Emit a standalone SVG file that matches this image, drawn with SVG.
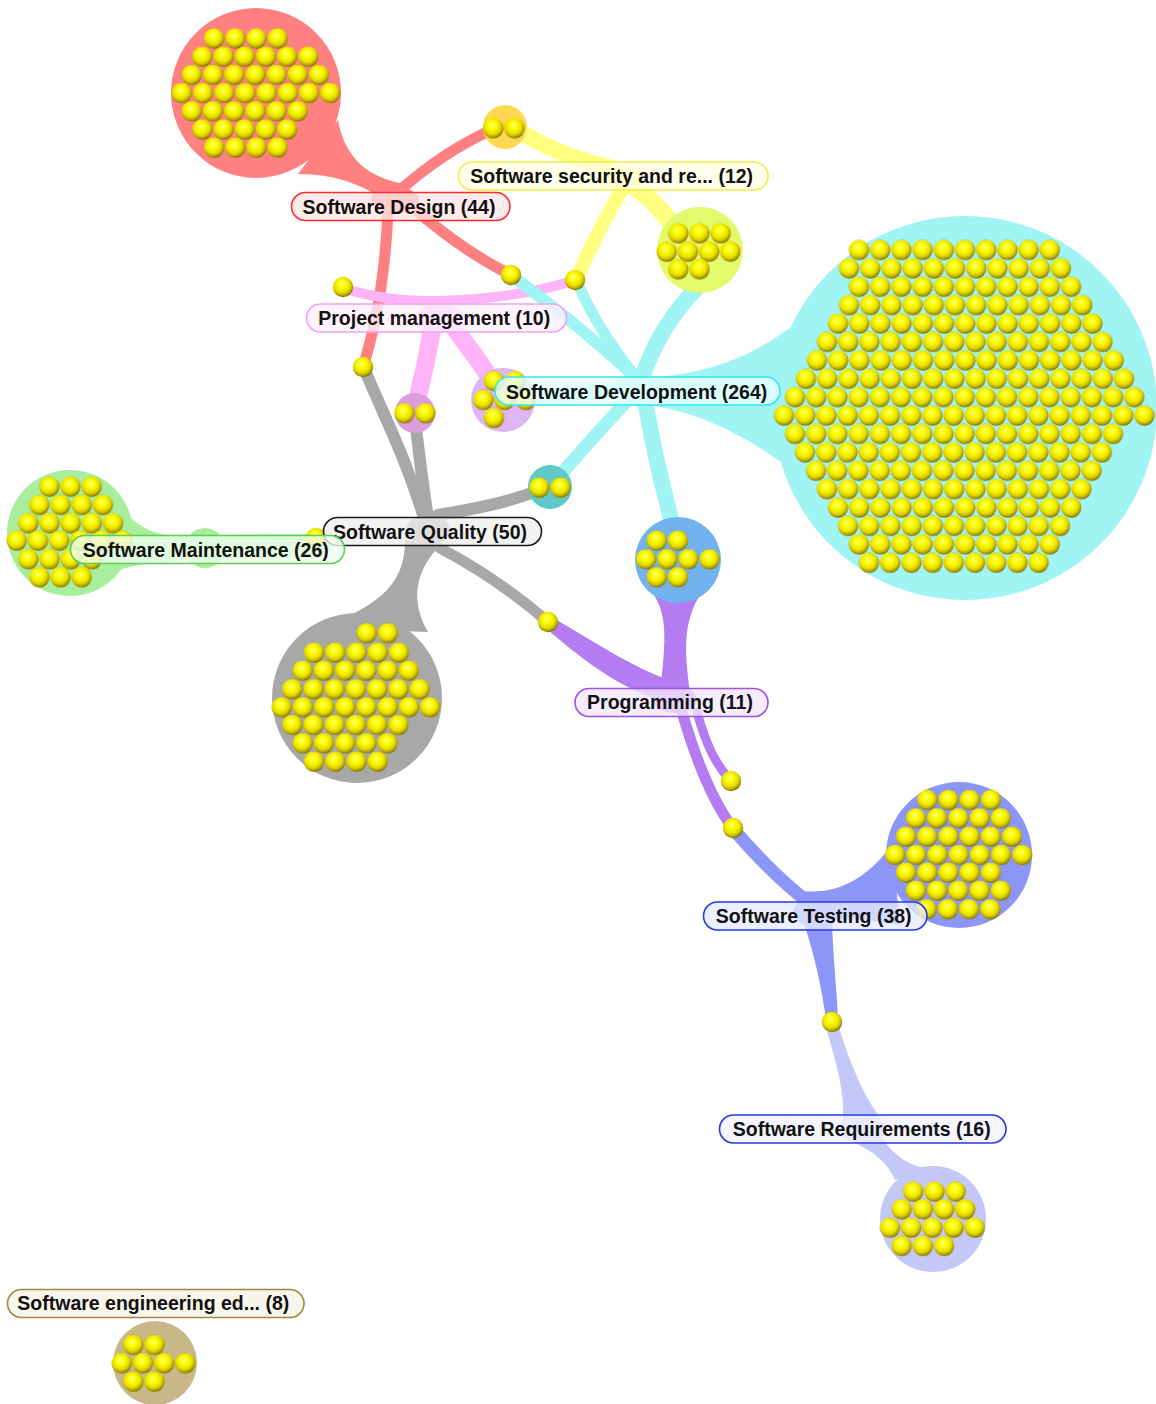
<svg xmlns="http://www.w3.org/2000/svg" xmlns:xlink="http://www.w3.org/1999/xlink" width="1156" height="1404" viewBox="0 0 1156 1404">
<style>
.c{fill:none;stroke-linecap:round}
.lb{stroke-width:1.6;fill-opacity:0.78}
.t{font-family:"Liberation Sans",Arial,Helvetica,sans-serif;font-weight:bold;font-size:19.5px;text-anchor:middle;fill:#111}
.rows{fill:url(#bp)}
</style>
<defs>
<radialGradient id="bg" cx="0.45" cy="0.4" r="0.62" fx="0.44" fy="0.34">
<stop offset="0" stop-color="#ffffd8"/>
<stop offset="0.1" stop-color="#ffff50"/>
<stop offset="0.3" stop-color="#ffff00"/>
<stop offset="0.65" stop-color="#e6dc00"/>
<stop offset="0.88" stop-color="#a89800"/>
<stop offset="1" stop-color="#665800"/>
</radialGradient>
<pattern id="bp" width="21.2" height="21" patternUnits="userSpaceOnUse"><circle cx="10.6" cy="10.5" r="10.2" fill="url(#bg)"/></pattern>
<circle id="ball" r="10.2" fill="url(#bg)"/>
</defs>
<rect width="1156" height="1404" fill="#ffffff"/>

<g id="connectors">
<!-- red: Software Design -->
<g stroke="#ff8080">
<path class="c" d="M398,192 Q445,150 496,128" stroke-width="11"/>
<path class="c" d="M418,212 Q465,252 511,275" stroke-width="11"/>
<path class="c" d="M388,212 Q384,300 363,367" stroke-width="11"/>
</g>
<path fill="#ff8080" d="M338,120 C345,160 370,178 405,184 L395,207 C370,190 345,174 298,174 Z"/>
<ellipse cx="395" cy="200" rx="24" ry="13" fill="#ff8080"/>
<!-- yellow: security -->
<g stroke="#ffff80">
<path class="c" d="M515,128 Q555,155 612,168" stroke-width="16"/>
<path class="c" d="M625,185 Q600,225 577,278" stroke-width="14"/>
<path class="c" d="M632,185 Q655,200 672,225" stroke-width="18"/>
</g>
<ellipse cx="620" cy="178" rx="22" ry="12" fill="#ffff80"/>
<!-- pink: project management -->
<g stroke="#ffb4f8">
<path class="c" d="M343,288 C385,302 430,302 460,300 C510,297 545,290 575,280" stroke-width="10"/>
<path class="c" d="M433,325 Q426,365 416,405" stroke-width="18"/>
<path class="c" d="M452,325 Q475,355 495,385" stroke-width="18"/>
</g>
<ellipse cx="440" cy="318" rx="24" ry="13" fill="#ffb4f8"/>
<!-- cyan: software development -->
<g stroke="#a0f4f4">
<path class="c" d="M511,275 Q575,322 630,372" stroke-width="12"/>
<path class="c" d="M576,280 Q598,330 632,372" stroke-width="11"/>
<path class="c" d="M697,288 Q660,325 642,378" stroke-width="16"/>
<path class="c" d="M628,400 Q590,440 552,485" stroke-width="13"/>
<path class="c" d="M645,400 Q655,460 674,530" stroke-width="16"/>
<path class="c" d="M515,398 L630,390" stroke-width="14"/>
</g>
<path fill="#a0f4f4" d="M640,378 C700,376 750,360 800,320 L805,480 C755,440 700,410 640,404 Z"/>
<ellipse cx="637" cy="390" rx="26" ry="16" fill="#a0f4f4"/>
<!-- gray: software quality -->
<g stroke="#a8a8a8">
<path class="c" d="M364,368 C382,412 405,455 424,518" stroke-width="12"/>
<path class="c" d="M416,428 C420,462 424,492 428,518" stroke-width="12"/>
<path class="c" d="M438,515 C480,508 510,502 545,488" stroke-width="12"/>
<path class="c" d="M440,548 Q500,580 548,622" stroke-width="11"/>
</g>
<path fill="#a8a8a8" d="M405,540 C405,580 385,605 318,628 L428,632 C410,600 415,572 440,545 Z"/>
<ellipse cx="428" cy="530" rx="22" ry="15" fill="#a8a8a8"/>
<!-- green: maintenance -->
<path class="c" stroke="#a8ee9c" d="M110,548 L318,546" stroke-width="24"/>
<path fill="#a8ee9c" d="M108,494 C130,522 150,535 175,536 L175,561 C150,561 130,566 108,574 Z"/>
<circle cx="205" cy="548" r="20" fill="#a8ee9c"/>
<!-- purple: programming -->
<path fill="#b47cf0" d="M548,615 C592,640 632,668 675,682 L668,702 C625,692 585,662 548,630 Z"/>
<path fill="#b47cf0" d="M652,592 C668,615 666,640 660,692 L690,692 C684,650 683,620 702,592 Z"/>
<g stroke="#b47cf0">
<path class="c" d="M682,712 C696,760 712,800 732,827" stroke-width="11"/>
<path class="c" d="M697,712 C706,745 716,765 731,781" stroke-width="9"/>
</g>
<ellipse cx="675" cy="700" rx="22" ry="13" fill="#b47cf0"/>
<!-- blue: testing -->
<path class="c" stroke="#8c96f8" d="M734,830 C760,860 785,885 812,905" stroke-width="13"/>
<path fill="#8c96f8" d="M795,890 C830,896 862,885 892,845 L900,925 C860,918 830,918 800,918 Z"/>
<path fill="#8c96f8" d="M803,920 C816,960 822,990 826,1020 L838,1020 C837,990 833,960 832,920 Z"/>
<ellipse cx="815" cy="912" rx="22" ry="14" fill="#8c96f8"/>
<!-- light blue: requirements -->
<path fill="#c4c8f8" d="M826,1028 C836,1062 845,1092 843,1120 L882,1120 C866,1100 850,1065 838,1024 Z"/>
<path fill="#c4c8f8" d="M845,1138 C870,1150 885,1158 895,1180 L925,1168 C905,1165 890,1150 882,1138 Z"/>
<ellipse cx="862" cy="1129" rx="24" ry="13" fill="#c4c8f8"/>
</g>

<g id="shared-clusters">
<g id="c-design-security"><circle cx="505" cy="127" r="22" fill="#ffd850"/>
<g class="rows"><rect transform="translate(482.7 117.8)" width="42.4" height="21"/></g></g>
<g id="c-security-development"><circle cx="700" cy="250" r="43" fill="#e2fa6c"/>
<g class="rows">
<rect transform="translate(667.7 222.8)" width="63.6" height="21"/>
<rect transform="translate(656.1 241.2)" width="84.8" height="21"/>
<rect transform="translate(667.7 258.8)" width="42.4" height="21"/>
</g></g>
<g id="c-pm-quality"><circle cx="415" cy="413" r="20" fill="#da9ede"/>
<g class="rows"><rect transform="translate(393.7 402.8)" width="42.4" height="21"/></g></g>
<g id="c-pm-development"><circle cx="503" cy="400" r="32" fill="#deb6f6"/>
<g class="rows">
<rect transform="translate(483.4 370.5)" width="42.4" height="21"/>
<rect transform="translate(472.7 389.5)" width="63.6" height="21"/>
<rect transform="translate(483.4 407.5)" width="21.2" height="21"/>
</g></g>
<g id="c-quality-development"><circle cx="550" cy="487" r="22" fill="#60c8c8"/>
<g class="rows"><rect transform="translate(528.7 477.2)" width="42.4" height="21"/></g></g>
<g id="c-programming-development"><circle cx="678" cy="560" r="43" fill="#72b2ee"/>
<g class="rows">
<rect transform="translate(646.1 530.2)" width="42.4" height="21"/>
<rect transform="translate(635.4 548.8)" width="84.8" height="21"/>
<rect transform="translate(646.1 566.8)" width="42.4" height="21"/>
</g></g>
<g id="single-documents">
<use xlink:href="#ball" href="#ball" x="343" y="287"/>
<use xlink:href="#ball" href="#ball" x="511" y="275"/>
<use xlink:href="#ball" href="#ball" x="575" y="280"/>
<use xlink:href="#ball" href="#ball" x="363" y="367"/>
<use xlink:href="#ball" href="#ball" x="548" y="622"/>
<use xlink:href="#ball" href="#ball" x="731" y="781"/>
<use xlink:href="#ball" href="#ball" x="733" y="828"/>
<use xlink:href="#ball" href="#ball" x="832" y="1022"/>
<use xlink:href="#ball" href="#ball" x="316" y="538"/>
</g>
</g>

<g id="n-design">
<circle cx="256" cy="93" r="85" fill="#ff8080"/>
<g class="rows">
<rect transform="translate(203.4 28)" width="84.8" height="21"/>
<rect transform="translate(191.7 46.2)" width="127.2" height="21"/>
<rect transform="translate(181.1 64.4)" width="148.4" height="21"/>
<rect transform="translate(171.1 82.6)" width="169.6" height="21"/>
<rect transform="translate(181.1 100.8)" width="127.2" height="21"/>
<rect transform="translate(191.7 119)" width="106" height="21"/>
<rect transform="translate(203.4 137.2)" width="84.8" height="21"/>
</g>
<rect class="lb" x="291.5" y="192.5" width="218.5" height="28" rx="14" fill="#ffe6e6" stroke="#ff2a2a"/>
<text class="t" x="399" y="213.5">Software Design (44)</text>
</g>

<g id="n-security">
<rect class="lb" x="458.5" y="162" width="309.5" height="28" rx="14" fill="#ffffe6" stroke="#f2ee48"/>
<text class="t" x="611.7" y="183">Software security and re... (12)</text>
</g>

<g id="n-project-management">
<rect class="lb" x="306.5" y="304" width="260" height="28" rx="14" fill="#fff0fc" stroke="#f4a0f4"/>
<text class="t" x="434.2" y="325">Project management (10)</text>
</g>

<g id="n-development">
<circle cx="965" cy="408" r="192" fill="#a0f4f4"/>
<g class="rows">
<rect transform="translate(848.4 239.5)" width="212" height="21"/>
<rect transform="translate(838.4 257.9)" width="233.2" height="21"/>
<rect transform="translate(848.4 276.3)" width="233.2" height="21"/>
<rect transform="translate(838.4 294.7)" width="254.4" height="21"/>
<rect transform="translate(827.4 313.1)" width="275.6" height="21"/>
<rect transform="translate(816.4 331.5)" width="296.8" height="21"/>
<rect transform="translate(806.4 349.9)" width="318" height="21"/>
<rect transform="translate(795.4 368.3)" width="339.2" height="21"/>
<rect transform="translate(784.4 386.7)" width="360.4" height="21"/>
<rect transform="translate(773.4 405.1)" width="381.6" height="21"/>
<rect transform="translate(784.4 423.5)" width="339.2" height="21"/>
<rect transform="translate(794.4 441.9)" width="318" height="21"/>
<rect transform="translate(805.4 460.3)" width="296.8" height="21"/>
<rect transform="translate(816.4 478.7)" width="275.6" height="21"/>
<rect transform="translate(827.4 497.1)" width="254.4" height="21"/>
<rect transform="translate(837.4 515.5)" width="233.2" height="21"/>
<rect transform="translate(848.4 533.9)" width="212" height="21"/>
<rect transform="translate(858.4 552.3)" width="190.8" height="21"/>
</g>
<rect class="lb" x="495" y="377" width="285" height="28" rx="14" fill="#eaffff" stroke="#30e8f0"/>
<text class="t" x="636.7" y="398.5">Software Development (264)</text>
</g>

<g id="n-quality">
<circle cx="357" cy="698" r="85" fill="#a8a8a8"/>
<g class="rows">
<rect transform="translate(356.1 622.8)" width="42.4" height="21"/>
<rect transform="translate(303.4 642.2)" width="106" height="21"/>
<rect transform="translate(292.1 660.2)" width="127.2" height="21"/>
<rect transform="translate(281.7 678.8)" width="148.4" height="21"/>
<rect transform="translate(271.1 696.8)" width="169.6" height="21"/>
<rect transform="translate(281.7 714.5)" width="127.2" height="21"/>
<rect transform="translate(292.1 732.8)" width="106" height="21"/>
<rect transform="translate(303.4 751.2)" width="84.8" height="21"/>
</g>
<rect class="lb" x="323.5" y="517.5" width="218" height="28" rx="14" fill="#eeeeee" stroke="#1a1a1a"/>
<text class="t" x="430" y="538.5">Software Quality (50)</text>
</g>

<g id="n-maintenance">
<circle cx="70" cy="533" r="63" fill="#a8ee9c"/>
<g class="rows">
<rect transform="translate(38.7 476.2)" width="63.6" height="21"/>
<rect transform="translate(28.7 494.5)" width="84.8" height="21"/>
<rect transform="translate(17.7 512.8)" width="106" height="21"/>
<rect transform="translate(6.1 530.2)" width="127.2" height="21"/>
<rect transform="translate(17.7 548.8)" width="84.8" height="21"/>
<rect transform="translate(28.7 566.8)" width="63.6" height="21"/>
</g>
<rect class="lb" x="70.5" y="535.5" width="274" height="28" rx="14" fill="#f0fff0" stroke="#58d050"/>
<text class="t" x="205.8" y="556.5">Software Maintenance (26)</text>
</g>

<g id="n-programming">
<rect class="lb" x="575" y="688.5" width="193" height="28" rx="14" fill="#f2e8ff" stroke="#a050e8"/>
<text class="t" x="670" y="709">Programming (11)</text>
</g>

<g id="n-testing">
<circle cx="959" cy="855" r="73" fill="#8c96f8"/>
<g class="rows">
<rect transform="translate(916.7 789.5)" width="84.8" height="21"/>
<rect transform="translate(905.4 807.8)" width="106" height="21"/>
<rect transform="translate(895.4 826.2)" width="127.2" height="21"/>
<rect transform="translate(884.4 844.5)" width="148.4" height="21"/>
<rect transform="translate(895.4 862.2)" width="106" height="21"/>
<rect transform="translate(905.4 880.2)" width="106" height="21"/>
<rect transform="translate(916.1 898.8)" width="84.8" height="21"/>
</g>
<rect class="lb" x="703.5" y="902" width="223.5" height="28" rx="14" fill="#e6eaff" stroke="#2838e8"/>
<text class="t" x="813.7" y="922.5">Software Testing (38)</text>
</g>

<g id="n-requirements">
<circle cx="933" cy="1219" r="53" fill="#c4c8f8"/>
<g class="rows">
<rect transform="translate(902.7 1181.2)" width="63.6" height="21"/>
<rect transform="translate(891.1 1198.8)" width="84.8" height="21"/>
<rect transform="translate(879.4 1217.2)" width="106" height="21"/>
<rect transform="translate(891.1 1235.5)" width="63.6" height="21"/>
</g>
<rect class="lb" x="719.5" y="1115" width="286.5" height="28" rx="14" fill="#f2f2ff" stroke="#2838e8"/>
<text class="t" x="861.7" y="1135.5">Software Requirements (16)</text>
</g>

<g id="n-education">
<circle cx="155" cy="1363" r="42" fill="#c8b888"/>
<g class="rows">
<rect transform="translate(122.7 1334.5)" width="42.4" height="21"/>
<rect transform="translate(111.1 1352.8)" width="84.8" height="21"/>
<rect transform="translate(122.7 1371.2)" width="42.4" height="21"/>
</g>
<rect class="lb" x="7.5" y="1289.5" width="296.5" height="28" rx="14" fill="#f6f2e6" stroke="#a08840"/>
<text class="t" x="153.3" y="1310">Software engineering ed... (8)</text>
</g>
</svg>
